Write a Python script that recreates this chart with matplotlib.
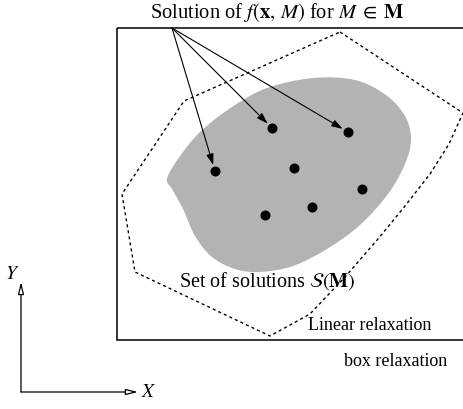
import matplotlib
matplotlib.use("Agg")
import matplotlib.pyplot as plt
import numpy as np
from matplotlib.path import Path
from matplotlib.patches import PathPatch, FancyArrowPatch, Rectangle

plt.rcParams['font.family'] = ['Liberation Serif', 'DejaVu Serif']
plt.rcParams['mathtext.fontset'] = 'stix'

# ---- diagram geometry (pixel coordinates, y down) ----
box_corners = [117, 29, 466, 341]  # left, top, right, bottom

relax_x = [340, 463, 449, 430, 405, 378, 345, 310, 270, 135, 122, 184, 340]
relax_y = [33, 114, 145, 175, 207, 240, 278, 315, 337, 273, 195, 102, 33]

blob_x = [167, 178, 200, 232, 267, 313, 355, 386, 405, 411, 405, 388, 360, 327,
          293, 260, 235, 212, 195, 183, 172]
blob_y = [180, 160, 133, 108, 89, 79, 81, 96, 117, 140, 165, 195, 226, 250,
          267, 273, 270, 258, 237, 210, 190]

dots_x = [215, 272, 348, 294, 362, 312, 265]
dots_y = [172, 129, 133, 169, 190, 208, 216]

arrow_origin = (172, 29)
arrow_targets = [0, 1, 2]  # indices into dots

axes_origin = (21, 393)
axis_y_tip = (21, 283)
axis_x_tip = (138, 393)

title_text = r"Solution of $f(\mathbf{x},\,M)$ for $M\;\in\;\mathbf{M}$"
set_text = r"Set of solutions $\mathcal{S}(\mathbf{M})$"
linear_text = "Linear relaxation"
box_text = "box relaxation"

W, H = 464, 410
fig = plt.figure(figsize=(W / 100, H / 100), dpi=100)
ax = fig.add_axes([0, 0, 1, 1])
ax.set_xlim(0, W)
ax.set_ylim(H, 0)
ax.axis('off')

# box relaxation rectangle
l, t, r, b = box_corners
ax.add_patch(Rectangle((l, t), r - l, b - t, fill=False, lw=1.1, ec='black', zorder=2))

# gray blob via Catmull-Rom -> cubic Bezier
P = np.column_stack([blob_x, blob_y]).astype(float)
n = len(P)
verts = [P[0]]
codes = [Path.MOVETO]
for i in range(n):
    p0, p1, p2, p3 = P[i - 1], P[i], P[(i + 1) % n], P[(i + 2) % n]
    c1 = p1 + (p2 - p0) / 6.0
    c2 = p2 - (p3 - p1) / 6.0
    verts += [c1, c2, p2]
    codes += [Path.CURVE4] * 3
ax.add_patch(PathPatch(Path(verts, codes), fc='#b3b3b3', ec='none', zorder=1))

# linear relaxation (dashed polygon)
ax.plot(relax_x, relax_y, color='black', lw=1.0, ls=(0, (2.2, 2.2)), zorder=3)

# dots
ax.plot(dots_x, dots_y, 'o', color='black', ms=6.2, zorder=5)

# arrows
for k in arrow_targets:
    a = FancyArrowPatch(arrow_origin, (dots_x[k], dots_y[k]),
                        arrowstyle='-|>,head_length=0.55,head_width=0.18',
                        mutation_scale=12, lw=0.8, color='black',
                        shrinkA=0, shrinkB=4.5, zorder=4)
    ax.add_patch(a)

# coordinate axes
for tip in (axis_y_tip, axis_x_tip):
    a = FancyArrowPatch(axes_origin, tip,
                        arrowstyle='-|>,head_length=0.6,head_width=0.15',
                        mutation_scale=12, lw=0.9, ec='black', fc='white',
                        shrinkA=0, shrinkB=0, zorder=4)
    ax.add_patch(a)

ax.text(12, 275, r"$Y$", fontsize=14, ha='center', va='center')
ax.text(149, 393, r"$X$", fontsize=14, ha='center', va='center')

ax.text(277, 12, title_text, fontsize=14.8, ha='center', va='center')
ax.text(267, 281, set_text, fontsize=14.5, ha='center', va='center', zorder=6)
ax.text(370, 326, linear_text, fontsize=13, ha='center', va='center')
ax.text(396, 362, box_text, fontsize=13, ha='center', va='center')

fig.savefig("out.png", dpi=100)
